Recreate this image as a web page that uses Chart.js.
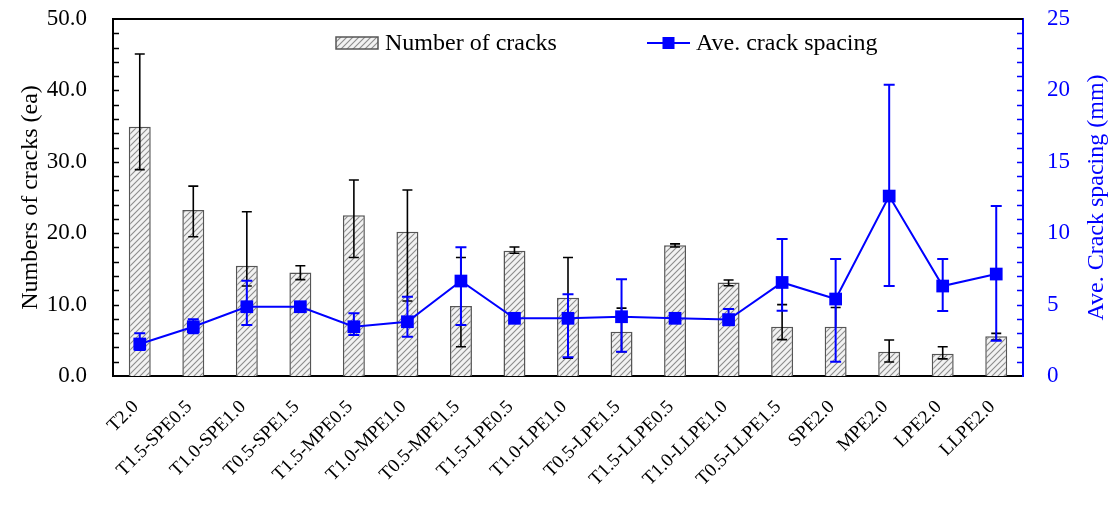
<!DOCTYPE html>
<html>
<head>
<meta charset="utf-8">
<script src="https://cdn.jsdelivr.net/npm/chart.js@4.4.1/dist/chart.umd.min.js"></script>
<style>
  html, body { margin: 0; padding: 0; background: #ffffff; }
  #wrap { width: 1112px; height: 505px; position: relative; }
</style>
</head>
<body>
<div id="wrap"><canvas id="c" width="1112" height="505"></canvas></div>
<script>
// Specimen groups
const categories = [
  'T2.0', 'T1.5-SPE0.5', 'T1.0-SPE1.0', 'T0.5-SPE1.5', 'T1.5-MPE0.5', 'T1.0-MPE1.0',
  'T0.5-MPE1.5', 'T1.5-LPE0.5', 'T1.0-LPE1.0', 'T0.5-LPE1.5', 'T1.5-LLPE0.5',
  'T1.0-LLPE1.0', 'T0.5-LLPE1.5', 'SPE2.0', 'MPE2.0', 'LPE2.0', 'LLPE2.0'
];

// Number of cracks (ea) with error range
const crackCount     = [34.9, 23.25, 15.45, 14.5, 22.5, 20.2, 9.8, 17.55, 10.97, 6.2, 18.3, 13.1, 6.9, 6.9, 3.4, 3.1, 5.55];
const crackCountHigh = [45.1, 26.6, 23.0, 15.45, 27.45, 26.05, 16.6, 18.07, 16.6, 9.5, 18.5, 13.45, 10.0, 9.6, 5.04, 4.1, 5.97];
const crackCountLow  = [28.9, 19.5, 12.6, 13.5, 16.6, 10.5, 4.1, 17.2, 2.5, 3.4, 18.07, 12.65, 5.1, 6.9, 1.96, 2.4, 5.04];

// Average crack spacing (mm) with error range
const spacing     = [2.24, 3.45, 4.85, 4.85, 3.45, 3.8, 6.65, 4.04, 4.04, 4.15, 4.04, 3.95, 6.55, 5.39, 12.6, 6.3, 7.14];
const spacingHigh = [2.99, 3.97, 6.67, 5.1, 4.39, 5.55, 9.01, 4.3, 5.72, 6.77, 4.3, 4.69, 9.59, 8.19, 20.4, 8.19, 11.9];
const spacingLow  = [1.82, 2.99, 3.57, 4.6, 2.87, 2.75, 3.57, 3.8, 1.31, 1.7, 3.8, 3.55, 4.57, 1.0, 6.3, 4.55, 2.47];

// Axis ticks
const leftTicks  = [0, 10, 20, 30, 40, 50];
const rightTicks = [0, 5, 10, 15, 20, 25];

const FONT = "'Liberation Serif', 'Times New Roman', serif";
const BLUE = '#0000ff';

const canvas = document.getElementById('c');
const mainCtx = canvas.getContext('2d');

// Diagonal hatch fill for the bars
function makeHatch() {
  const t = document.createElement('canvas');
  t.width = 6; t.height = 6;
  const g = t.getContext('2d');
  g.fillStyle = '#f2f2f2';
  g.fillRect(0, 0, 6, 6);
  g.strokeStyle = '#8c8c8c';
  g.lineWidth = 1.1;
  g.beginPath();
  g.moveTo(-1, 7); g.lineTo(7, -1);
  g.moveTo(-4, 4); g.lineTo(4, -4);
  g.moveTo(2, 10); g.lineTo(10, 2);
  g.stroke();
  return mainCtx.createPattern(t, 'repeat');
}
const hatch = makeHatch();

function drawErrorBars(chart, dsIndex, values, lows, highs, scaleId, color, lw, capHalf) {
  const meta = chart.getDatasetMeta(dsIndex);
  const ys = chart.scales[scaleId];
  const ctx = chart.ctx;
  ctx.save();
  ctx.strokeStyle = color;
  ctx.lineWidth = lw;
  meta.data.forEach((el, i) => {
    const x = el.x;
    const yv = ys.getPixelForValue(values[i]);
    ctx.beginPath();
    if (highs[i] > values[i]) {
      const yh = ys.getPixelForValue(highs[i]);
      ctx.moveTo(x, yv); ctx.lineTo(x, yh);
      ctx.moveTo(x - capHalf, yh); ctx.lineTo(x + capHalf, yh);
    }
    if (lows[i] < values[i]) {
      const yl = ys.getPixelForValue(lows[i]);
      ctx.moveTo(x, yv); ctx.lineTo(x, yl);
      ctx.moveTo(x - capHalf, yl); ctx.lineTo(x + capHalf, yl);
    }
    ctx.stroke();
  });
  ctx.restore();
}

const errorBarPlugin = {
  id: 'errorBars',
  afterDatasetDraw(chart, args) {
    if (args.index === 0) {
      drawErrorBars(chart, 0, crackCount, crackCountLow, crackCountHigh, 'y', '#000000', 1.6, 5);
    } else if (args.index === 1) {
      drawErrorBars(chart, 1, spacing, spacingLow, spacingHigh, 'y1', BLUE, 2, 5.5);
    }
  }
};

// Frame, inward minor/major ticks, right axis title and legend
const framePlugin = {
  id: 'frame',
  afterDraw(chart) {
    const ctx = chart.ctx;
    const a = chart.chartArea;
    const yl = chart.scales.y, yr = chart.scales.y1;
    ctx.save();

    // top border
    ctx.strokeStyle = '#000';
    ctx.lineWidth = 2;
    ctx.beginPath();
    ctx.moveTo(a.left, a.top); ctx.lineTo(a.right, a.top);
    ctx.stroke();

    // inward ticks, left axis
    ctx.lineWidth = 1.5;
    ctx.beginPath();
    for (let v = 2; v < 50; v += 2) {
      const y = Math.round(yl.getPixelForValue(v)) + 0.5;
      ctx.moveTo(a.left, y); ctx.lineTo(a.left + 6, y);
    }
    ctx.stroke();

    // inward ticks, right axis
    ctx.strokeStyle = BLUE;
    ctx.beginPath();
    for (let v = 1; v < 25; v += 1) {
      const y = Math.round(yr.getPixelForValue(v)) + 0.5;
      ctx.moveTo(a.right, y); ctx.lineTo(a.right - 6, y);
    }
    ctx.stroke();

    // right axis title, reading upward
    ctx.fillStyle = BLUE;
    ctx.font = '24px ' + FONT;
    ctx.textAlign = 'center';
    ctx.textBaseline = 'middle';
    ctx.translate(a.right + 74, (a.top + a.bottom) / 2);
    ctx.rotate(-Math.PI / 2);
    ctx.fillText('Ave. Crack spacing (mm)', 0, 0);
    ctx.setTransform(1, 0, 0, 1, 0, 0);

    // legend
    const ly = a.top + 24;
    const bx = a.left + 223;
    ctx.fillStyle = hatch;
    ctx.fillRect(bx, ly - 6, 42, 12);
    ctx.strokeStyle = '#555';
    ctx.lineWidth = 1.5;
    ctx.strokeRect(bx, ly - 6, 42, 12);
    ctx.fillStyle = '#000';
    ctx.font = '24px ' + FONT;
    ctx.textAlign = 'left';
    ctx.textBaseline = 'middle';
    ctx.fillText('Number of cracks', bx + 49, ly + 1);

    const lx = a.left + 534;
    ctx.strokeStyle = BLUE;
    ctx.lineWidth = 2;
    ctx.beginPath();
    ctx.moveTo(lx, ly); ctx.lineTo(lx + 43, ly);
    ctx.stroke();
    ctx.fillStyle = BLUE;
    ctx.fillRect(lx + 21.5 - 6, ly - 6, 12, 12);
    ctx.fillStyle = '#000';
    ctx.fillText('Ave. crack spacing', lx + 49, ly + 1);

    ctx.restore();
  }
};

function fixVertical(width) {
  return function (scale) {
    scale.width = width;
    scale.paddingTop = 0;
    scale.paddingBottom = 0;
  };
}

new Chart(mainCtx, {
  data: {
    labels: categories,
    datasets: [
      {
        type: 'bar',
        label: 'Number of cracks',
        data: crackCount,
        yAxisID: 'y',
        backgroundColor: hatch,
        borderColor: '#555555',
        borderWidth: 1.5,
        barPercentage: 0.41,
        categoryPercentage: 1.0,
        order: 2
      },
      {
        type: 'line',
        label: 'Ave. crack spacing',
        data: spacing,
        yAxisID: 'y1',
        borderColor: BLUE,
        borderWidth: 2,
        pointStyle: 'rect',
        pointRadius: 9,
        pointHoverRadius: 9,
        pointBackgroundColor: BLUE,
        pointBorderWidth: 0,
        tension: 0,
        order: 1
      }
    ]
  },
  options: {
    responsive: false,
    animation: false,
    events: [],
    layout: { padding: { top: 19, left: 0, right: 0, bottom: 0 } },
    plugins: {
      legend: { display: false },
      tooltip: { enabled: false }
    },
    scales: {
      x: {
        grid: { display: false, drawTicks: false },
        border: { color: '#000', width: 2 },
        ticks: {
          color: '#000',
          font: { family: FONT, size: 19 },
          maxRotation: 45,
          minRotation: 45,
          autoSkip: false,
          padding: 20,
          labelOffset: -4
        },
        afterFit(scale) {
          scale.height = 129;
          scale.paddingLeft = 0;
          scale.paddingRight = 0;
        }
      },
      y: {
        position: 'left',
        min: 0,
        max: 50,
        afterBuildTicks(scale) { scale.ticks = leftTicks.map(v => ({ value: v })); },
        grid: { display: false, drawTicks: false },
        border: { color: '#000', width: 2 },
        ticks: {
          color: '#000',
          font: { family: FONT, size: 23 },
          padding: 26,
          callback: v => Number(v).toFixed(1)
        },
        title: {
          display: true,
          text: 'Numbers of cracks (ea)',
          color: '#000',
          font: { family: FONT, size: 24 },
          padding: { top: 16, bottom: 0 }
        },
        afterFit: fixVertical(113)
      },
      y1: {
        position: 'right',
        min: 0,
        max: 25,
        afterBuildTicks(scale) { scale.ticks = rightTicks.map(v => ({ value: v })); },
        grid: { display: false, drawTicks: false },
        border: { color: BLUE, width: 2 },
        ticks: {
          color: BLUE,
          font: { family: FONT, size: 23 },
          padding: 24,
          callback: v => String(v)
        },
        afterFit: fixVertical(89)
      }
    }
  },
  plugins: [errorBarPlugin, framePlugin]
});
</script>
</body>
</html>
